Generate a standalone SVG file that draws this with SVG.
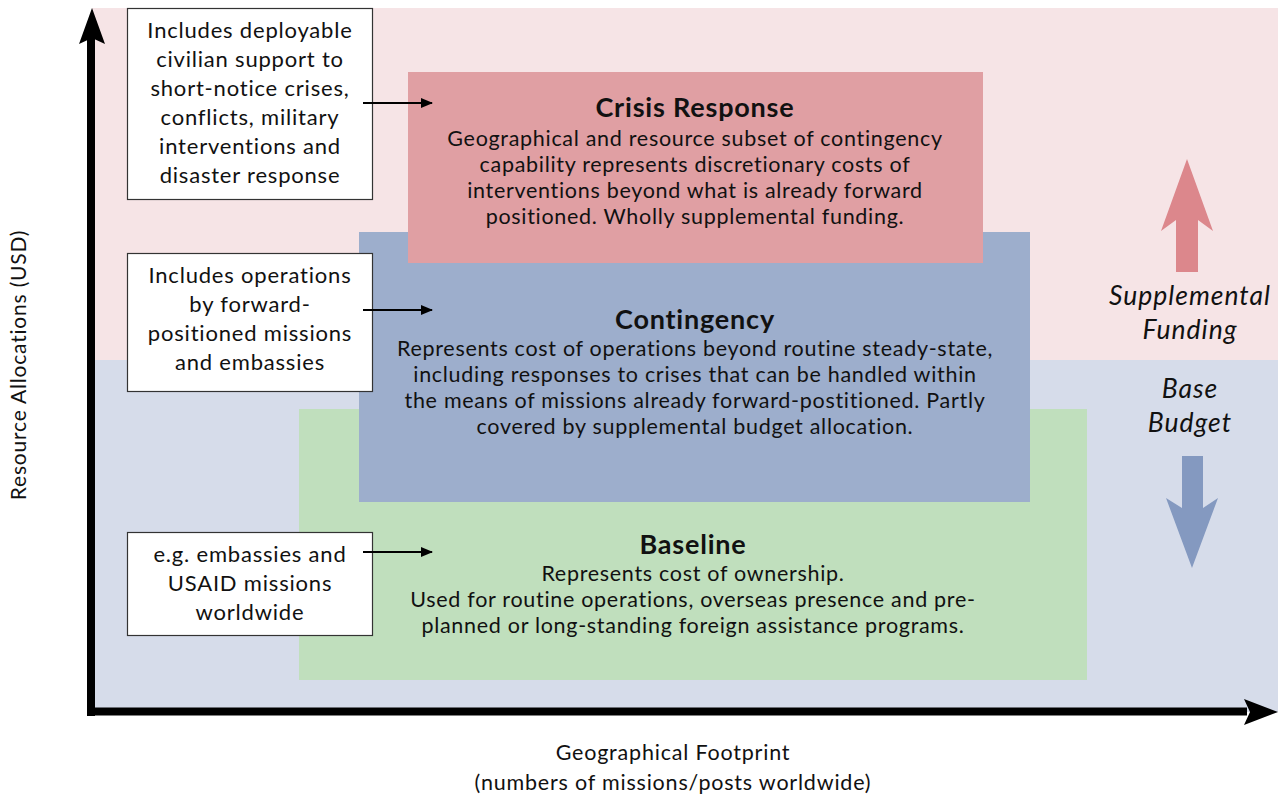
<svg xmlns="http://www.w3.org/2000/svg" width="1278" height="798" viewBox="0 0 1278 798">
<style>
text{font-family:Lato,"Open Sans","Liberation Sans",sans-serif;fill:#111;text-anchor:middle}
.t{font-size:27px;font-weight:bold;letter-spacing:0.8px}
.b{font-size:21.5px;letter-spacing:0.7px}
.c{font-size:22px;letter-spacing:0.8px}
.i{font-size:26.5px;font-style:italic;letter-spacing:1px}
.ax{font-size:21.5px;letter-spacing:0.8px}
.ay{font-size:21px;letter-spacing:0.8px}
.callout{fill:#fff;stroke:#333;stroke-width:1.2}
.lead{stroke:#000;stroke-width:2;fill:none}
</style>
<defs>
<marker id="ah" viewBox="0 0 12 10" refX="11" refY="5" markerWidth="12" markerHeight="10" markerUnits="userSpaceOnUse" orient="auto">
<path d="M0,0 L12,5 L0,10 Z" fill="#000"/>
</marker>
</defs>
<rect width="1278" height="798" fill="#fff"/>
<g id="background">
<rect x="92" y="8" width="1186" height="352" fill="#f6e4e6"/>
<rect x="92" y="360" width="1186" height="352" fill="#d6dcea"/>
</g>
<g id="baseline">
<rect x="299" y="409" width="788" height="271" fill="#c0dfbd"/>
<text class="t" x="693" y="554">Baseline</text>
<text class="b" x="693" y="581">Represents cost of ownership.</text>
<text class="b" x="693" y="607">Used for routine operations, overseas presence and pre-</text>
<text class="b" x="693" y="633">planned or long-standing foreign assistance programs.</text>
</g>
<g id="contingency">
<rect x="359" y="232" width="671" height="270" fill="#9daecc"/>
<text class="t" x="695" y="329">Contingency</text>
<text class="b" x="695" y="356">Represents cost of operations beyond routine steady-state,</text>
<text class="b" x="695" y="382">including responses to crises that can be handled within</text>
<text class="b" x="695" y="408">the means of missions already forward-postitioned. Partly</text>
<text class="b" x="695" y="434">covered by supplemental budget allocation.</text>
</g>
<g id="crisis">
<rect x="408" y="72" width="575" height="191" fill="#e09fa3"/>
<text class="t" x="695" y="117">Crisis Response</text>
<text class="b" x="695" y="146">Geographical and resource subset of contingency</text>
<text class="b" x="695" y="172">capability represents discretionary costs of</text>
<text class="b" x="695" y="198">interventions beyond what is already forward</text>
<text class="b" x="695" y="224">positioned. Wholly supplemental funding.</text>
</g>
<g id="callout1">
<rect class="callout" x="127.5" y="8.5" width="245" height="191"/>
<text class="c" x="250" y="38">Includes deployable</text>
<text class="c" x="250" y="67">civilian support to</text>
<text class="c" x="250" y="96">short-notice crises,</text>
<text class="c" x="250" y="125">conflicts, military</text>
<text class="c" x="250" y="154">interventions and</text>
<text class="c" x="250" y="183">disaster response</text>
</g>
<g id="callout2">
<rect class="callout" x="127.5" y="253.5" width="245" height="138"/>
<text class="c" x="250" y="283">Includes operations</text>
<text class="c" x="250" y="312">by forward-</text>
<text class="c" x="250" y="341">positioned missions</text>
<text class="c" x="250" y="370">and embassies</text>
</g>
<g id="callout3">
<rect class="callout" x="127.5" y="532.5" width="245" height="103"/>
<text class="c" x="250" y="562">e.g. embassies and</text>
<text class="c" x="250" y="591">USAID missions</text>
<text class="c" x="250" y="620">worldwide</text>
</g>
<g id="connectors">
<line class="lead" x1="363" y1="103" x2="432" y2="103" marker-end="url(#ah)"/>
<line class="lead" x1="363" y1="310" x2="432" y2="310" marker-end="url(#ah)"/>
<line class="lead" x1="363" y1="552" x2="432" y2="552" marker-end="url(#ah)"/>
</g>
<g id="axes">
<rect x="87" y="36" width="8" height="680" fill="#000"/>
<path d="M92,8 L105,44 L92,38 L79,44 Z" fill="#000"/>
<rect x="87" y="707.5" width="1160" height="8" fill="#000"/>
<path d="M1278,712 L1244,699 L1250,712 L1244,725 Z" fill="#000"/>
<text class="ay" transform="translate(26,365) rotate(-90)">Resource Allocations (USD)</text>
<text class="ax" x="673" y="760">Geographical Footprint</text>
<text class="ax" x="673" y="790">(numbers of missions/posts worldwide)</text>
</g>
<g id="funding">
<path d="M1176,272 L1176,220 L1161,231 L1187,159 L1213,231 L1198,220 L1198,272 Z" fill="#dc878c"/>
<text class="i" x="1190" y="305">Supplemental</text>
<text class="i" x="1190" y="339">Funding</text>
<text class="i" x="1190" y="398">Base</text>
<text class="i" x="1190" y="432">Budget</text>
<path d="M1182,456 L1182,508 L1166,498 L1192,568 L1218,498 L1203,508 L1203,456 Z" fill="#8499c0"/>
</g>
</svg>
